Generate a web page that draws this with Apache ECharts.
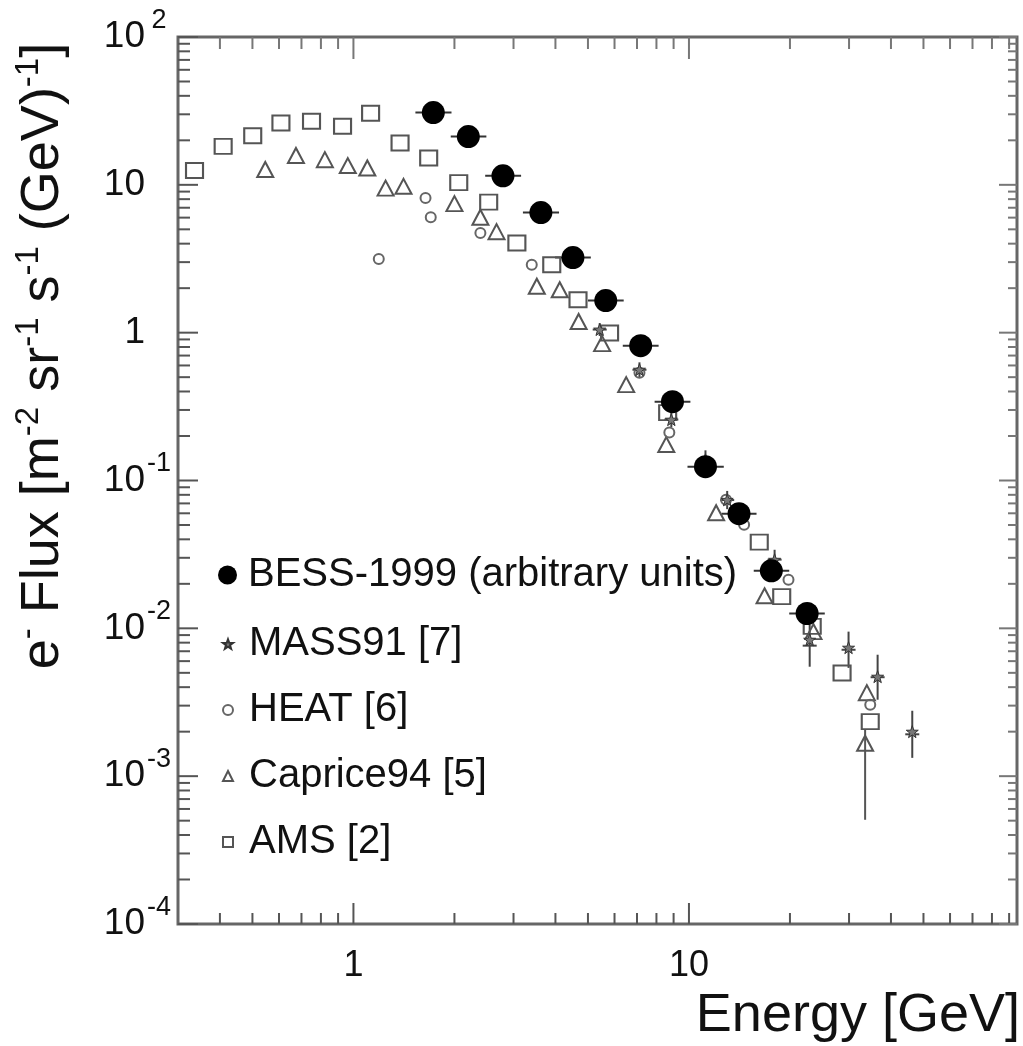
<!DOCTYPE html>
<html><head><meta charset="utf-8">
<script src="https://cdn.jsdelivr.net/npm/echarts@6/dist/echarts.min.js"></script>
<style>html,body{margin:0;padding:0;background:#fff}#c{width:1023px;height:1046px}</style>
</head><body><div id="c"></div>
<script>
// ---- data ----
const bessE  = [1.73, 2.20, 2.79, 3.62, 4.51, 5.65, 7.18, 8.93, 11.2, 14.1, 17.6, 22.5];
const bessF  = [30.8, 21.2, 11.5, 6.49, 3.22, 1.65, 0.817, 0.341, 0.124, 0.0596, 0.0245, 0.0126];
const bessElo = [1.53, 1.95, 2.47, 3.20, 3.99, 5.00, 6.35, 7.90, 9.9, 12.5, 15.6, 19.9];
const bessEhi = [1.96, 2.49, 3.16, 4.10, 5.10, 6.39, 8.12, 10.1, 12.7, 15.9, 19.9, 25.4];

const massE   = [5.42, 7.12, 8.86, 11.2, 13.0, 18.0, 22.9, 29.9, 36.5, 46.3];
const massF   = [1.05, 0.562, 0.258, 0.138, 0.074, 0.0291, 0.00838, 0.0074, 0.00471, 0.0020];
const massFlo = [0.95, 0.50, 0.23, 0.12, 0.064, 0.025, 0.0055, 0.0054, 0.00329, 0.00133];
const massFhi = [1.16, 0.63, 0.29, 0.16, 0.085, 0.034, 0.0106, 0.0095, 0.00663, 0.00277];

const heatE = [1.19, 1.64, 1.70, 2.39, 3.40, 7.12, 8.74, 12.9, 14.6, 19.8, 34.7];
const heatF = [3.15, 8.15, 6.03, 4.73, 2.88, 0.536, 0.211, 0.0742, 0.0502, 0.0213, 0.00304];

const capE = [0.546, 0.674, 0.822, 0.962, 1.10, 1.247, 1.41, 2.00, 2.39, 2.67, 3.52, 4.12, 4.69, 5.51, 6.50, 8.56, 12.05, 16.8, 23.5, 33.9, 33.5];
const capF = [12.7, 15.8, 14.8, 13.5, 13.0, 9.5, 9.77, 7.46, 6.04, 4.82, 2.06, 1.95, 1.19, 0.843, 0.445, 0.175, 0.0605, 0.0166, 0.0095, 0.00367, 0.00167];
const capErrE  = [33.5];
const capErrLo = [0.000507];
const capErrHi = [0.00206];

const amsE = [0.336, 0.409, 0.501, 0.608, 0.750, 0.928, 1.125, 1.377, 1.676, 2.06, 2.53, 3.07, 3.90, 4.67, 5.80, 8.64, 16.2, 18.9, 23.3, 28.6, 34.7];
const amsF = [12.5, 18.2, 21.5, 26.2, 26.9, 24.9, 30.5, 19.2, 15.2, 10.35, 7.64, 4.04, 2.88, 1.67, 0.995, 0.288, 0.0383, 0.0164, 0.0103, 0.00499, 0.00234];

const seriesNames = ['BESS-1999 (arbitrary units)', 'MASS91 [7]', 'HEAT [6]', 'Caprice94 [5]', 'AMS [2]'];

// axis ticks
const xMajorTicks = [1, 10];
const xMinorTicks = [0.4, 0.5, 0.6, 0.7, 0.8, 0.9, 2, 3, 4, 5, 6, 7, 8, 9, 20, 30, 40, 50, 60, 70, 80, 90];
const yMajorTicks = [1e-4, 1e-3, 1e-2, 0.1, 1, 10, 100];
const minorMantissas = [2, 3, 4, 5, 6, 7, 8, 9];
const yDecades = [1e-4, 1e-3, 1e-2, 0.1, 1, 10];
const yMinorTicks = [].concat(...yDecades.map(d => minorMantissas.map(m => +(m * d).toPrecision(3))));

// ---- chart ----
const FONT = "'Liberation Sans', Arial, Helvetica, sans-serif";
const MARK = '#555';
const chart = echarts.init(document.getElementById('c'));

function pairs(xs, ys) { return xs.map((x, i) => [x, ys[i]]); }
function isPow10(v) { const e = Math.log10(v); return Math.abs(e - Math.round(e)) < 1e-6; }

const starPath = 'path://M0,-10 L2.4,-3.2 9.5,-3.1 3.8,1.2 5.9,8.1 0,4 -5.9,8.1 -3.8,1.2 -9.5,-3.1 -2.4,-3.2 Z';

function line(x1, y1, x2, y2, color, w) {
  return { type: 'line', shape: { x1, y1, x2, y2 }, style: { stroke: color, lineWidth: w } };
}

const option = {
  animation: false,
  backgroundColor: '#fff',
  grid: { left: 178, top: 37, right: 6, bottom: 122, show: true, borderColor: '#666', borderWidth: 3, backgroundColor: 'transparent' },
  xAxis: {
    type: 'log', logBase: 10, min: 0.3, max: 95,
    axisLine: { show: false }, axisTick: { show: false }, splitLine: { show: false },
    axisLabel: {
      margin: 24, fontSize: 36, color: '#111', fontFamily: FONT,
      formatter: v => isPow10(v) ? String(Math.round(v)) : ''
    }
  },
  yAxis: {
    type: 'log', logBase: 10, min: 1e-4, max: 100,
    axisLine: { show: false }, axisTick: { show: false }, splitLine: { show: false },
    axisLabel: {
      margin: 5,
      formatter: v => {
        const e = Math.round(Math.log10(v));
        if (e === 0) return '{b|1}{s| }';
        if (e === 1) return '{b|10}{s| }';
        return '{b|10}{s|' + e + '}';
      },
      rich: {
        b: { fontSize: 37, lineHeight: 60, fontFamily: FONT, color: '#111', verticalAlign: 'middle' },
        s: { fontSize: 27, lineHeight: 14, fontFamily: FONT, color: '#111', verticalAlign: 'top', width: 28, align: 'left' }
      }
    }
  },
  legend: [
    {
      data: [seriesNames[0]], orient: 'vertical', left: 213, top: 550,
      itemWidth: 19, itemHeight: 19,
      textStyle: { fontSize: 40, color: '#111', fontFamily: FONT, padding: [0, 0, 0, 6] }
    },
    {
      data: seriesNames.slice(1), orient: 'vertical', left: 217, top: 619,
      itemWidth: 10, itemHeight: 10, itemGap: 26,
      textStyle: { fontSize: 40, color: '#111', fontFamily: FONT, padding: [0, 0, 0, 11] }
    }
  ],
  graphic: [
    {
      type: 'text', x: 43, y: 356, rotation: Math.PI / 2, silent: true,
      style: {
        text: 'e{s|-} Flux [m{s|-2} sr{s|-1} s{s|-1} (GeV){s|-1}]',
        fontSize: 54, fontFamily: FONT, fill: '#111', align: 'center', verticalAlign: 'middle',
        rich: {
          s: { fontSize: 33, lineHeight: 22, fontFamily: FONT, fill: '#111', verticalAlign: 'top' }
        },
        lineHeight: 62
      }
    },
    {
      type: 'text', x: 1020, y: 1016, silent: true,
      style: { text: 'Energy [GeV]', fontSize: 54, fontFamily: FONT, fill: '#111', align: 'right', verticalAlign: 'middle' }
    }
  ],
  series: [
    // axis ticks (bottom/top)
    {
      type: 'custom', silent: true, z: 10,
      data: xMajorTicks.map(v => [v, 1, 1]).concat(xMinorTicks.map(v => [v, 1, 0])),
      encode: { x: 0, y: 1 },
      renderItem: (params, api) => {
        const x = api.coord([api.value(0), 1])[0];
        const cs = params.coordSys;
        const major = api.value(2) === 1;
        const lb = major ? 21 : 11, lt = major ? 22 : 12;
        return { type: 'group', children: [
          line(x, cs.y + cs.height, x, cs.y + cs.height - lb, '#555', 2),
          line(x, cs.y, x, cs.y + lt, '#777', 2)
        ]};
      }
    },
    // axis ticks (left/right)
    {
      type: 'custom', silent: true, z: 10,
      data: yMajorTicks.map(v => [1, v, 1]).concat(yMinorTicks.map(v => [1, v, 0])),
      encode: { x: 0, y: 1 },
      renderItem: (params, api) => {
        const y = api.coord([1, api.value(1)])[1];
        const cs = params.coordSys;
        const major = api.value(2) === 1;
        const ll = major ? 20 : 12, lr = major ? 18 : 9;
        return { type: 'group', children: [
          line(cs.x, y, cs.x + ll, y, '#555', 2),
          line(cs.x + cs.width, y, cs.x + cs.width - lr, y, '#777', 2)
        ]};
      }
    },
    // BESS horizontal error bars
    {
      type: 'custom', silent: true, z: 2,
      data: bessE.map((e, i) => [bessElo[i], bessEhi[i], bessF[i]]),
      encode: { x: [0, 1], y: 2 },
      renderItem: (params, api) => {
        const p1 = api.coord([api.value(0), api.value(2)]);
        const p2 = api.coord([api.value(1), api.value(2)]);
        return line(p1[0], p1[1], p2[0], p2[1], '#333', 2);
      }
    },
    // MASS91 error bars
    {
      type: 'custom', silent: true, z: 2,
      data: massE.map((e, i) => [e, massFlo[i], massFhi[i]]),
      encode: { x: 0, y: [1, 2] },
      renderItem: (params, api) => {
        const p1 = api.coord([api.value(0), api.value(1)]);
        const p2 = api.coord([api.value(0), api.value(2)]);
        const pc = api.coord([api.value(0), Math.sqrt(api.value(1) * api.value(2))]);
        return { type: 'group', children: [
          line(p1[0], p1[1], p2[0], p2[1], '#444', 2),
          line(pc[0] - 7, pc[1], pc[0] + 7, pc[1], '#444', 2)
        ]};
      }
    },
    // Caprice94 error bar
    {
      type: 'custom', silent: true, z: 2,
      data: capErrE.map((e, i) => [e, capErrLo[i], capErrHi[i]]),
      encode: { x: 0, y: [1, 2] },
      renderItem: (params, api) => {
        const p1 = api.coord([api.value(0), api.value(1)]);
        const p2 = api.coord([api.value(0), api.value(2)]);
        return line(p1[0], p1[1], p2[0], p2[1], '#555', 2);
      }
    },
    {
      name: seriesNames[4], type: 'scatter', z: 3,
      data: pairs(amsE, amsF), symbol: 'rect', symbolSize: [17, 15],
      itemStyle: { color: 'rgba(255,255,255,0)', borderColor: MARK, borderWidth: 2, opacity: 1 }
    },
    {
      name: seriesNames[3], type: 'scatter', z: 3,
      data: pairs(capE, capF), symbol: 'triangle', symbolSize: [16, 15],
      itemStyle: { color: 'rgba(255,255,255,0)', borderColor: MARK, borderWidth: 2, opacity: 1 }
    },
    {
      name: seriesNames[2], type: 'scatter', z: 3,
      data: pairs(heatE, heatF), symbol: 'circle', symbolSize: 10,
      itemStyle: { color: 'rgba(255,255,255,0)', borderColor: '#666', borderWidth: 2, opacity: 1 }
    },
    {
      name: seriesNames[1], type: 'scatter', z: 4,
      data: pairs(massE, massF), symbol: starPath, symbolSize: 12,
      itemStyle: { color: '#777', borderColor: '#333', borderWidth: 1, opacity: 1 }
    },
    {
      name: seriesNames[0], type: 'scatter', z: 5,
      data: pairs(bessE, bessF), symbol: 'circle', symbolSize: 23,
      itemStyle: { color: '#000', opacity: 1 }
    }
  ]
};
chart.setOption(option);
</script>
</body></html>
